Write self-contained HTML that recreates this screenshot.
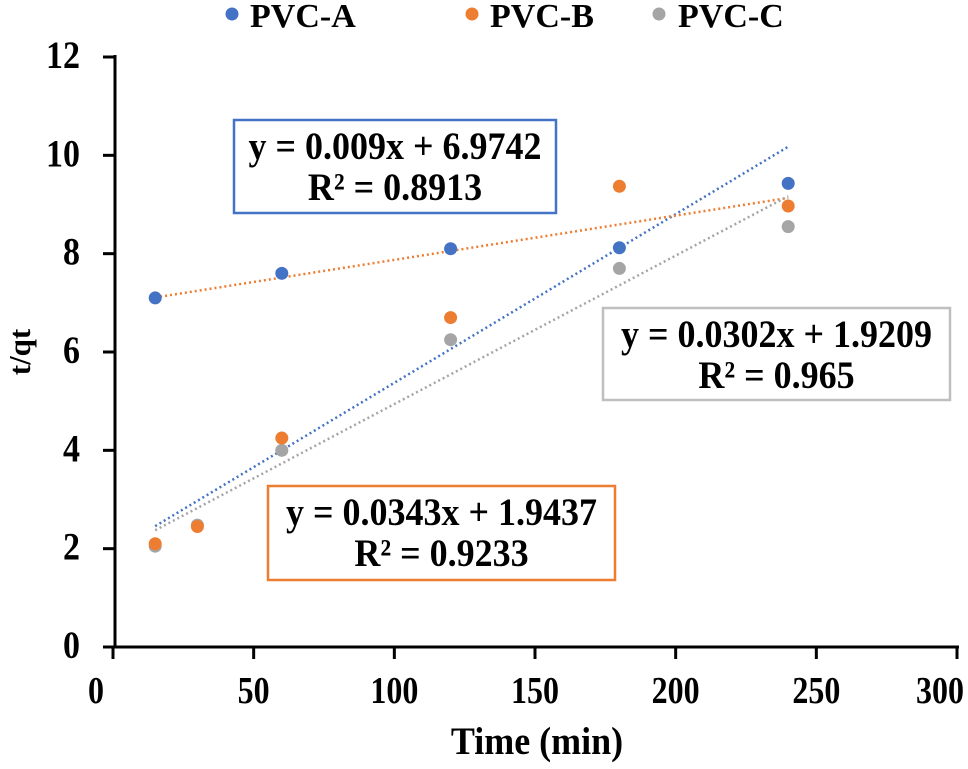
<!DOCTYPE html>
<html><head><meta charset="utf-8"><style>
body{margin:0;background:#fff;width:968px;height:764px;overflow:hidden}
svg text{font-family:"Liberation Serif",serif;font-weight:bold;fill:#000}
</style></head><body>
<svg id="chart" width="968" height="764" xmlns="http://www.w3.org/2000/svg"></svg>
<script>
const xTicks=[0,50,100,150,200,250,300];
const yTicks=[0,2,4,6,8,10,12];
const xA=[15,60,120,180,240];
const yA=[7.1,7.6,8.1,8.12,9.43];
const xB=[15,30,60,120,180,240];
const yB=[2.1,2.45,4.25,6.7,9.37,8.97];
const xC=[15,30,60,120,180,240];
const yC=[2.05,2.48,4.0,6.25,7.7,8.55];
const trendSlopes=[0.0343,0.009,0.0302];
const trendIntercepts=[1.9437,6.9742,1.9209];
const trendRange=[15,240];
const colors=['#4472C4','#ED7D31','#A5A5A5'];
const X=v=>113+v*(957-113)/300;
const Y=v=>647-v*(647-57)/12;
const svg=document.getElementById('chart');
const NS='http://www.w3.org/2000/svg';
function mk(t,a,p){const e=document.createElementNS(NS,t);for(const k in a)e.setAttribute(k,a[k]);(p||svg).appendChild(e);return e;}
let ax=mk('line',{x1:115,y1:55,x2:115,y2:648,stroke:'#000','stroke-width':3});


let bx=mk('line',{x1:113,y1:647,x2:959,y2:647,stroke:'#000','stroke-width':3});


yTicks.forEach(v=>{
 let l=mk('line',{x1:103,y1:Y(v),x2:115,y2:Y(v),stroke:'#000','stroke-width':3});
 
 
 let t=mk('text',{x:0,y:0,'text-anchor':'end','font-size':34,transform:`translate(80,${Y(v)+11}) scale(1,1.15)`});
 t.textContent=v;
 
 
});
xTicks.forEach(v=>{
 let l=mk('line',{x1:X(v),y1:647,x2:X(v),y2:659,stroke:'#000','stroke-width':3});
 
 
 let t=mk('text',{x:0,y:0,'text-anchor':'middle','font-size':32,transform:`translate(${X(v)-(v===0?17:0)-(v===300?17:0)},703) scale(1,1.2)`});
 t.textContent=v;
 
 
});
let xt=mk('text',{x:0,y:0,'text-anchor':'middle','font-size':36,transform:'translate(537,754) scale(1,1.1)'});
xt.textContent='Time (min)';


let yt=mk('text',{x:0,y:0,'text-anchor':'middle','font-size':31,transform:'translate(30,352) rotate(-90)'});
yt.textContent='t/qt';


const trendNames=['trendline-blue','trendline-orange','trendline-gray'];
trendSlopes.forEach((m,i)=>{
 const b=trendIntercepts[i];
 let l=mk('line',{x1:X(trendRange[0]),y1:Y(m*trendRange[0]+b),x2:X(trendRange[1]),y2:Y(m*trendRange[1]+b),stroke:colors[i],'stroke-width':2.5,'stroke-dasharray':'2 3'});
 
 
});
[[xC,yC,2,'point-pvc-c'],[xB,yB,1,'point-pvc-b'],[xA,yA,0,'point-pvc-a']].forEach(([xs,ys,c,n])=>{
 xs.forEach((x,j)=>{
  let p=mk('circle',{cx:X(x),cy:Y(ys[j]),r:6.5,fill:colors[c]});
  
  
 });
});
[['PVC-A',232,250],['PVC-B',472,490],['PVC-C',659,678]].forEach(([s,x,tx],i)=>{
 let g=mk('g',{});
 
 
 mk('circle',{cx:x,cy:14,r:6.5,fill:colors[i]},g);
 let t=mk('text',{x:tx,y:27,'font-size':34},g);
 t.textContent=s;
});
[[234,120,322,93,colors[0],'y = 0.009x + 6.9742','R² = 0.8913','equation-box-blue'],
 [603,308,347,92,'#BFBFBF','y = 0.0302x + 1.9209','R² = 0.965','equation-box-gray'],
 [268,486,347,94,colors[1],'y = 0.0343x + 1.9437','R² = 0.9233','equation-box-orange']].forEach(([x,y,w,h,c,a,b,n])=>{
 let g=mk('g',{});
 
 
 mk('rect',{x:x,y:y,width:w,height:h,fill:'#fff',stroke:c,'stroke-width':2.5},g);
 let t1=mk('text',{x:0,y:0,'text-anchor':'middle','font-size':36,transform:`translate(${x+w/2},${y+39}) scale(1,1.1)`},g);t1.textContent=a;
 let t2=mk('text',{x:0,y:0,'text-anchor':'middle','font-size':36,transform:`translate(${x+w/2},${y+80}) scale(1,1.1)`},g);t2.textContent=b;
});
</script>
</body></html>
